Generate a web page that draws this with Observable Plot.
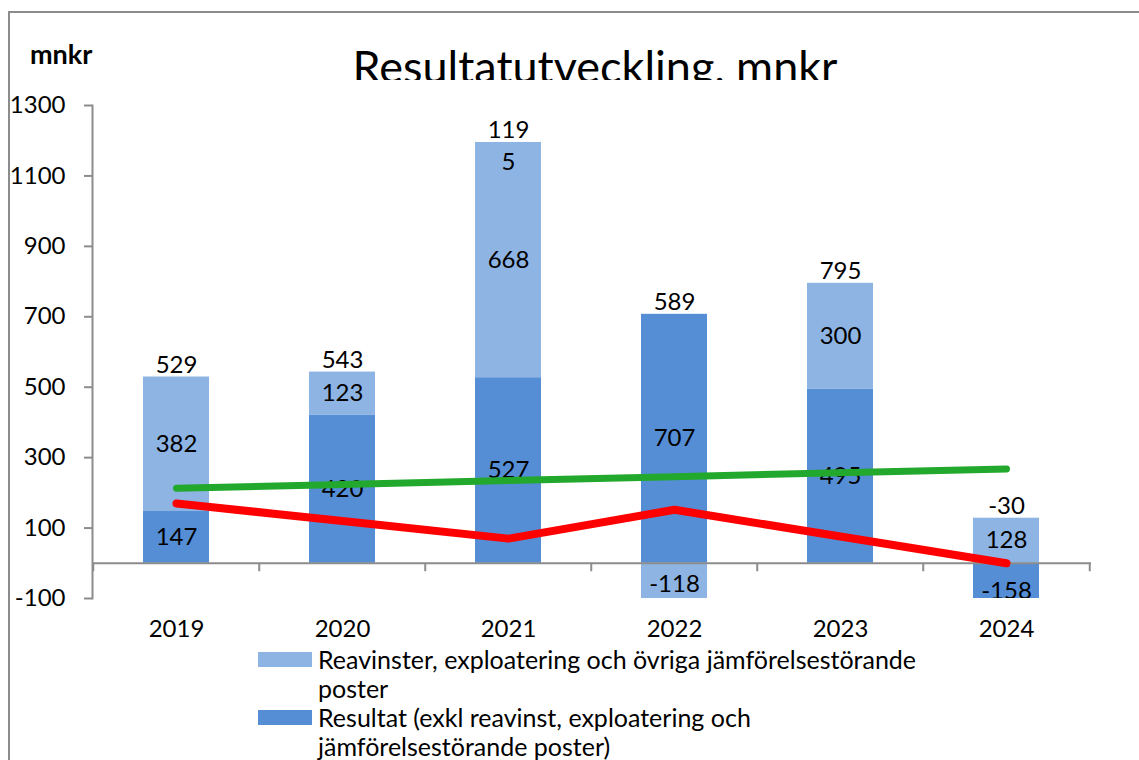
<!DOCTYPE html>
<html><head><meta charset="utf-8">
<script src="https://cdn.jsdelivr.net/npm/d3@7"></script>
<script src="https://cdn.jsdelivr.net/npm/@observablehq/plot@0.6"></script>
<style>
body{margin:0;background:#fff;font-family:Lato, sans-serif;color:#000;}
#frame{position:relative;width:1139px;height:760px;overflow:hidden;background:#fff;}
#border{position:absolute;left:8px;top:11px;width:1200px;height:800px;border-left:2px solid #8c8c8c;border-top:2px solid #8c8c8c;}
#chart{position:absolute;left:0;top:0;}
#unit{position:absolute;left:30px;top:36px;font-weight:bold;font-size:27px;line-height:36px;}
#title{position:absolute;left:0;width:1190px;top:36px;height:44px;overflow:hidden;text-align:center;font-size:45px;line-height:60px;}
#legend{position:absolute;left:258px;top:645px;font-size:25px;line-height:29px;}
.item{position:relative;padding-left:60px;}
.sw{position:absolute;left:0;top:7px;width:54px;height:15px;}
</style></head><body>
<div id="frame">
 <div id="border"></div>
 <div id="chart"></div>
 <div id="unit">mnkr</div>
 <div id="title">Resultatutveckling, mnkr</div>
 <div id="legend"></div>
</div>
<script>
const years = ["2019", "2020", "2021", "2022", "2023", "2024"];
const resultat = [147, 420, 527, 707, 495, -158];
const reavinster = [382, 123, 668, -118, 300, 128];
const totals = [529, 543, 1195, 589, 795, -30];
const trendLine = [213, 224, 235, 246, 257, 268];
const redLine = [170, 120, 70, 152, 76, 0];
const yTicks = [-100, 100, 300, 500, 700, 900, 1100, 1300];
const seriesNames = ["Resultat", "Reavinster"];
const legendLabels = [
  ["Reavinster, exploatering och övriga jämförelsestörande", "poster"],
  ["Resultat (exkl reavinst, exploatering och", "jämförelsestörande poster)"]
];
const colors = ["#558ed5", "#8eb4e3"];

const rows = [];
years.forEach((yr, i) => {
  rows.push({year: yr, series: seriesNames[0], value: resultat[i]});
  rows.push({year: yr, series: seriesNames[1], value: reavinster[i]});
});
const totalRows = years.map((yr, i) => ({
  year: yr,
  top: Math.max(0, resultat[i]) + Math.max(0, reavinster[i]),
  label: String(totals[i])
}));
const fmtTotal = d => d.label.length > 3 && !d.label.startsWith("-") ? d.label.slice(0, 3) + "\n" + d.label.slice(3) : d.label;

const W = 1139, H = 665, mL = 92, mR = 48;
const step = (W - mL - mR) / 6;
const gray = "#8c8c8c";

const chart = Plot.plot({
  width: W, height: H,
  marginLeft: mL, marginRight: mR, marginTop: 105, marginBottom: 67,
  style: {fontFamily: "Lato, sans-serif", fontSize: "24px", background: "transparent", color: "#000"},
  x: {type: "band", domain: years, paddingInner: 0.6, paddingOuter: 0.3, axis: null},
  y: {domain: [-100, 1300], axis: null},
  color: {domain: seriesNames, range: colors},
  marks: [
    Plot.barY(rows, Plot.stackY({x: "year", y: "value", fill: "series", clip: "frame"})),
    Plot.ruleY([0], {stroke: gray, strokeWidth: 2}),
    Plot.ruleX(years, {x: d => d, dx: -step / 2, y1: 0, y2: -24, stroke: gray, strokeWidth: 2}),
    Plot.ruleX([years[years.length - 1]], {x: d => d, dx: step / 2, y1: 0, y2: -24, stroke: gray, strokeWidth: 2}),
    Plot.frame({anchor: "left", stroke: gray, strokeWidth: 2}),
    Plot.axisY({ticks: yTicks, tickSize: 8, tickPadding: 19, stroke: gray, strokeWidth: 2, fill: "#000", fontSize: 24, label: null, tickFormat: d => String(d)}),
    Plot.axisX({tickSize: 0, tickPadding: 21, fontSize: 24, fill: "#000", label: null}),
    Plot.text(rows, Plot.stackY({x: "year", y: "value", text: d => String(d.value), fontSize: 24, fill: "#000", clip: "frame"})),
    Plot.line(years, {x: d => d, y: (d, i) => trendLine[i], stroke: "#22a82c", strokeWidth: 7, strokeLinecap: "round"}),
    Plot.line(years, {x: d => d, y: (d, i) => redLine[i], stroke: "#ff0000", strokeWidth: 8, strokeLinecap: "round", strokeLinejoin: "round"}),
    Plot.text(totalRows, {x: "year", y: "top", text: fmtTotal, lineAnchor: "top", dy: -27, lineHeight: 1.33, fontSize: 24, fill: "#000"})
  ]
});
document.getElementById("chart").appendChild(chart);

const leg = document.getElementById("legend");
[1, 0].forEach((si, k) => {
  const div = document.createElement("div");
  div.className = "item";
  const sw = document.createElement("span");
  sw.className = "sw";
  sw.style.background = colors[si];
  div.appendChild(sw);
  legendLabels[k].forEach((ln, j) => {
    if (j) div.appendChild(document.createElement("br"));
    div.appendChild(document.createTextNode(ln));
  });
  leg.appendChild(div);
});
</script>
</body></html>
